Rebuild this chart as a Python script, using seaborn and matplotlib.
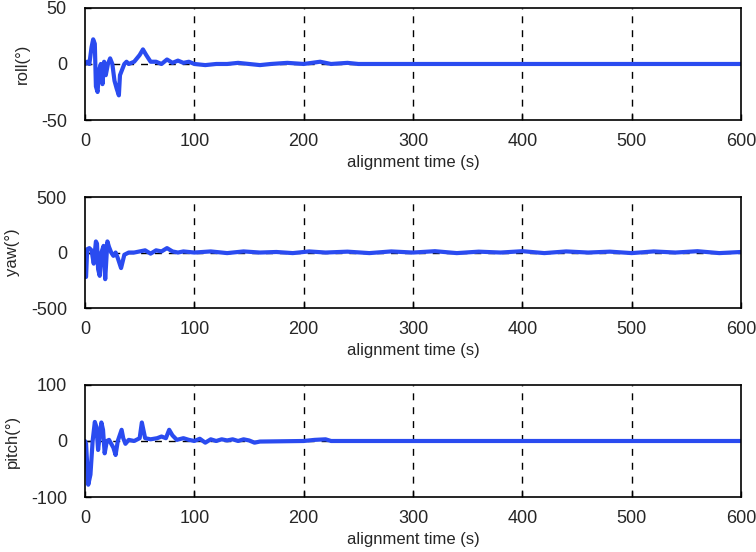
import numpy as np
import pandas as pd
import matplotlib
matplotlib.use("Agg")
import matplotlib.pyplot as plt
import seaborn as sns

# valores (tiempo en s, angulo en grados)
roll_t = [0, 2, 4, 6, 7.5, 9, 10, 11.5, 13, 14.5, 16, 17.5, 19, 21, 23, 25, 27, 29, 31, 32,
          34, 36, 38, 40, 45, 50, 53, 56, 60, 65, 70, 75, 80, 85, 90, 95, 100, 110, 120, 130,
          140, 150, 160, 170, 185, 200, 215, 225, 240, 250, 600]
roll_v = [0, 2, 0, 15, 22, 18, -20, -25, -5, 0, -18, 2, -10, 0, 5, 0, -15, -22, -28, -10,
          -5, 0, 2, 0, 2, 8, 13, 8, 2, 2, 0, 4, 1, 3, 1, 2, 0, -1, 0, 0,
          1, 0, -1, 0, 1, 0, 2, 0, 1, 0, 0]

yaw_t = [0, 1, 2, 4, 6, 8, 10, 11, 12, 13.5, 15, 17, 18.5, 20.5, 22, 24, 26, 28, 30, 33,
         36, 40, 45, 50, 55, 60, 65, 70, 75, 80, 85, 90, 100, 115, 130, 145, 160, 175, 190,
         205, 220, 240, 260, 280, 300, 320, 340, 360, 380, 400, 420, 440, 460, 480, 500,
         520, 540, 560, 580, 600]
yaw_v = [-200, -220, 30, 40, 20, -100, 100, 80, -150, -210, 0, 60, -240, 100, 50, 0, -30, 0, -50, -140,
         -20, 0, 0, 10, 20, -10, 20, 10, 40, 10, 0, 10, 0, 10, -5, 10, 0, 5, -5,
         10, 0, 8, -5, 10, 0, 12, -5, 8, 0, 12, -5, 10, 0, 8, -5,
         10, 0, 12, -5, 5]

pitch_t = [0, 1, 3, 5, 7, 9, 10.5, 12, 13.5, 15, 16.5, 18, 20, 22, 24, 26, 28, 30, 33.5, 35,
           37, 40, 45, 50, 52, 55, 60, 66, 70, 74, 77, 80, 84, 90, 95, 100, 105, 110, 115, 120,
           125, 130, 135, 140, 145, 150, 155, 160, 200, 210, 220, 225, 600]
pitch_v = [0, -5, -78, -60, 0, 34, 25, -16, 10, 33, 20, -22, 0, 2, -5, -12, -25, 0, 20, 5,
           -5, 2, 0, 5, 33, 5, 3, 5, 8, 5, 20, 10, 2, 5, 2, 0, 4, -3, 3, 0,
           3, 1, 3, 0, 3, 1, -3, -1, 0, 2, 3, 0, 0]

x_ticks = [0, 100, 200, 300, 400, 500, 600]
x_label = "alignment time (s)"

panels = [
    ("roll(°)", roll_t, roll_v, (-50, 50), [-50, 0, 50]),
    ("yaw(°)", yaw_t, yaw_v, (-500, 500), [-500, 0, 500]),
    ("pitch(°)", pitch_t, pitch_v, (-100, 100), [-100, 0, 100]),
]

sns.set_theme(style="white")
plt.rcParams["font.family"] = ["Liberation Sans", "DejaVu Sans"]
plt.rcParams["axes.unicode_minus"] = False

fig = plt.figure(figsize=(7.56, 5.52), dpi=100)
rects = [[0.1124, 0.7826, 0.868, 0.203],
         [0.1124, 0.442, 0.868, 0.201],
         [0.1124, 0.0996, 0.868, 0.203]]

for rect, (name, t, v, ylim, yticks) in zip(rects, panels):
    ax = fig.add_axes(rect)
    df = pd.DataFrame({"t": t, "v": v})
    # lineas de rejilla punteadas
    for xv in x_ticks[1:-1]:
        ax.axvline(xv, color="black", ls=(0, (5, 5)), lw=1, zorder=1)
    ax.axhline(0, color="black", ls=(0, (5, 5)), lw=1, zorder=1)
    sns.lineplot(data=df, x="t", y="v", ax=ax, color="#2a4bf0", lw=3, zorder=3)
    ax.set_xlim(0, 600)
    ax.set_ylim(*ylim)
    ax.set_xticks(x_ticks)
    ax.set_yticks(yticks)
    ax.set_xlabel(x_label, fontsize=12, labelpad=4)
    ax.set_ylabel(name, fontsize=12, labelpad=8)
    ax.tick_params(axis="x", pad=9)
    ax.tick_params(axis="y", pad=13)
    ax.tick_params(axis="both", direction="in", length=4, width=1, color="black",
                   labelsize=13, bottom=True, left=True)
    for s in ax.spines.values():
        s.set_color("black")
        s.set_linewidth(1.2)
        s.set_zorder(4)

fig.savefig("out.png", dpi=100)
